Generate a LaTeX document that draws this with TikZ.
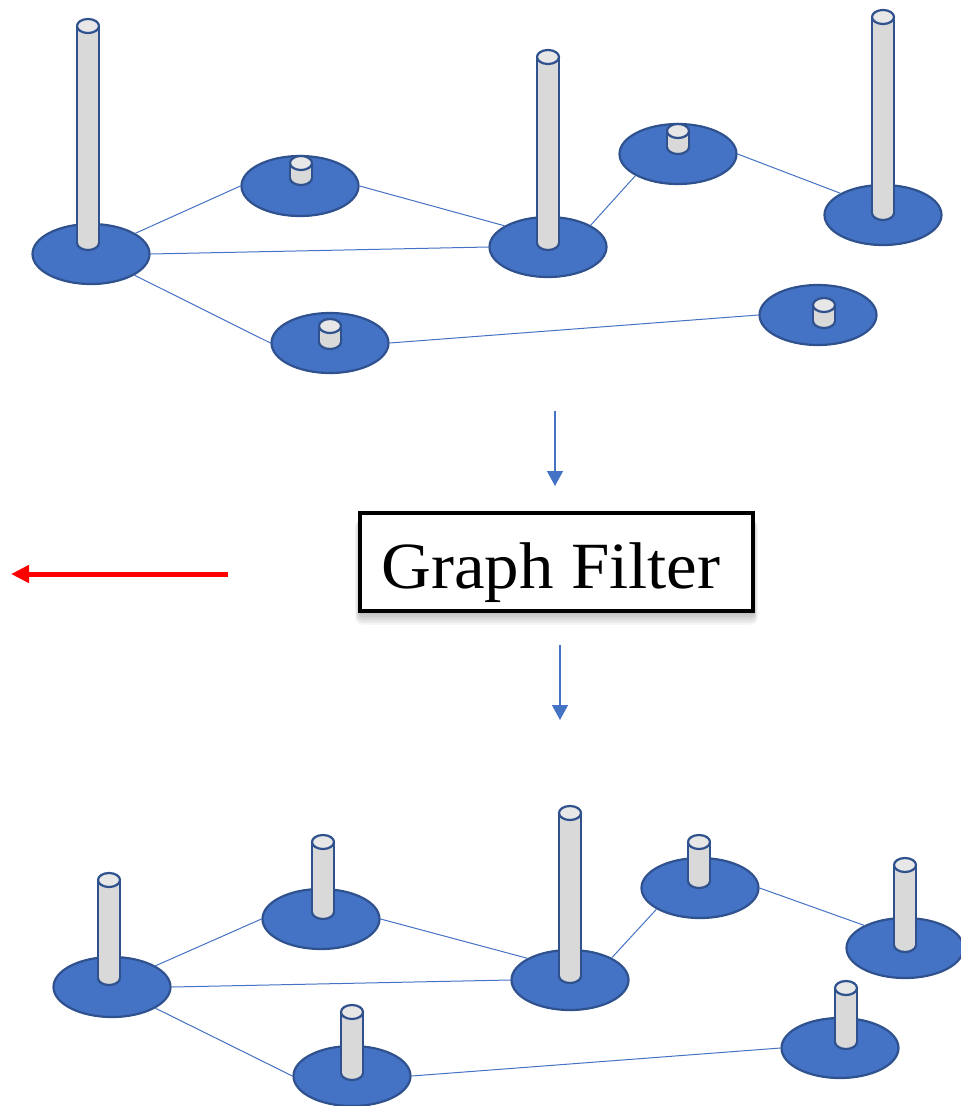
\documentclass[tikz,border=0pt]{standalone}
\usepackage{fontspec}
\setmainfont{Liberation Serif}
\usetikzlibrary{shapes.geometric,arrows.meta}

\definecolor{diskblue}{HTML}{4472C4}
\definecolor{rimblue}{HTML}{2F528F}
\definecolor{pillargray}{HTML}{D9D9D9}
\definecolor{capgray}{HTML}{E7E7E7}

% a pillar standing on a disk: x, y of the top cap, y of the foot
\newcommand{\pillar}[3]{%
	\draw[rim, fill=pillargray] (#1,#3) ellipse [x radius=11pt, y radius=7pt];
	\fill[pillargray] (#1-11,#2) rectangle (#1+11,#3);
	\draw[rim] (#1-11,#2) -- (#1-11,#3) (#1+11,#2) -- (#1+11,#3);
	\draw[rim, fill=capgray] (#1,#2) ellipse [x radius=11pt, y radius=7pt];
}

\begin{document}
\begin{tikzpicture}[x=1pt, y=-1pt,
		rim/.style={draw=rimblue, line width=2.2pt},
		disk/.style={ellipse, rim, fill=diskblue, minimum width=117pt, minimum height=60pt, inner sep=0pt},
		link/.style={diskblue, line width=1pt},
		flow/.style={diskblue, line width=1.3pt, -{Triangle[width=16pt,length=15pt]}},
		back/.style={red, line width=5pt, -{Triangle[width=17pt,length=18pt]}},
		filterbox/.style={draw=black, line width=4pt, fill=white, minimum width=393pt, minimum height=98pt, inner sep=0pt}]
	\useasboundingbox (0,0) rectangle (961,1106);

	% graph before filtering
	\foreach \n/\x/\y in {a/91/254, b/300/186, c/548/247, d/678/154, e/883/215, f/330/343, g/818/315}
	\node [disk] (top-\n) at (\x,\y) {};

	\foreach \i/\j in {a.25/b.west, a.east/c.west, a.-26/f.west, b.east/c.154, c.27/d.207, d.east/e.153, f.east/g.west}
	\draw [link] (top-\i) -- (top-\j);

	\foreach \x/\t/\b in {88/26/243, 301/163/178, 548/57/243, 678/131/147, 883/17/213, 330/326/342, 824/305/321}
	{\pillar{\x}{\t}{\b}}

	% the filter
	\foreach \s in {1,...,8}
	\fill [black, opacity=0.035, rounded corners=\s pt] (360-\s*0.6,520) rectangle (753+\s*0.6,612+\s*1.6);
	\node [filterbox] (filter) at (556.5,562) {};
	\node [anchor=base, inner sep=0pt, xscale=1.045, font=\fontsize{66}{70}\selectfont] (filter-text) at (551,588) {Graph Filter};

	\coordinate (in-from) at (555,411);
	\coordinate (in-to) at (555,486);
	\coordinate (out-from) at (560,645);
	\coordinate (out-to) at (560,720);
	\draw [flow] (in-from) -- (in-to);
	\draw [flow] (out-from) -- (out-to);

	\coordinate (back-from) at (228,574);
	\coordinate (back-to) at (11,574);
	\draw [back] (back-from) -- (back-to);

	% graph after filtering
	\foreach \n/\x/\y in {a/112/987, b/321/919, c/570/980, d/700/888, e/905/948, f/352/1076, g/840/1048}
	\node [disk] (bot-\n) at (\x,\y) {};

	\foreach \i/\j in {a.26/b.west, a.east/c.west, a.-26/f.west, b.east/c.153, c.28/d.206, d.east/e.151, f.east/g.west}
	\draw [link] (bot-\i) -- (bot-\j);

	\foreach \x/\t/\b in {109/880/978, 323/842/912, 570/813/976, 699/842/881, 905/865/945, 352/1012/1073, 846/988/1042}
	{\pillar{\x}{\t}{\b}}
\end{tikzpicture}
\end{document}
